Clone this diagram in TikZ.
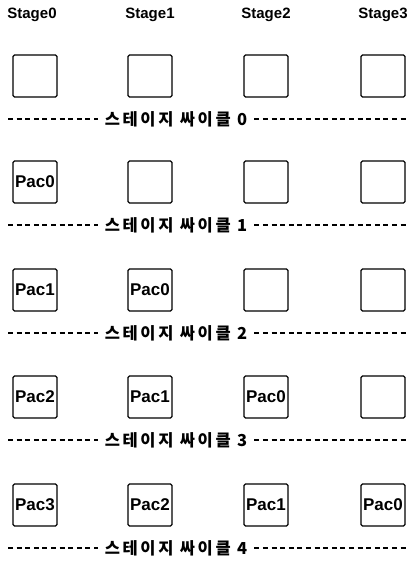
\documentclass[tikz,border=0pt]{standalone}
\usepackage{fontspec}
\setmainfont{Liberation Sans}
\newfontfamily\kofont[LetterSpace=16]{Noto Sans CJK KR}

\begin{document}
\begin{tikzpicture}[x=1pt, y=-1pt,
  stagehead/.style={font=\bfseries\fontsize{15}{15}\selectfont},
  stagebox/.style={draw, line width=1.1pt, rounded corners=1.5pt,
    minimum width=44pt, minimum height=42pt, inner sep=0pt,
    font=\bfseries\fontsize{17}{17}\selectfont},
  cyclelabel/.style={font=\kofont\bfseries\fontsize{16.5}{16.5}\selectfont, inner sep=7pt},
  cycleline/.style={line width=1.1pt, dash pattern=on 5pt off 3.6pt}]
  \useasboundingbox (0,0) rectangle (412,562);

  % Stage headers
  \node[stagehead] (head0) at (32,15) {Stage0};
  \node[stagehead] (head1) at (150,15) {Stage1};
  \node[stagehead] (head2) at (266,15) {Stage2};
  \node[stagehead] (head3) at (383,15) {Stage3};

  % Pipeline registers per cycle
  \foreach \r/\y in {0/76, 1/182, 2/290, 3/397, 4/505} {
    \foreach \c/\x in {0/35, 1/150, 2/266, 3/383} {
      \pgfmathtruncatemacro{\p}{\r-1-\c}
      \ifnum\p<0
        \node[stagebox] (box\r\c) at (\x,\y) {};
      \else
        \node[stagebox] (box\r\c) at (\x,\y) {Pac\p};
      \fi
    }
    % Cycle separator
    \node[cyclelabel] (cycle\r) at (176,\y+43) {스테이지 싸이클 \r};
    \coordinate (left\r) at (8,\y+43);
    \coordinate (right\r) at (408,\y+43);
    \draw[cycleline] (left\r) -- (cycle\r.west);
    \draw[cycleline] (cycle\r.east) -- (right\r);
  }
\end{tikzpicture}
\end{document}
